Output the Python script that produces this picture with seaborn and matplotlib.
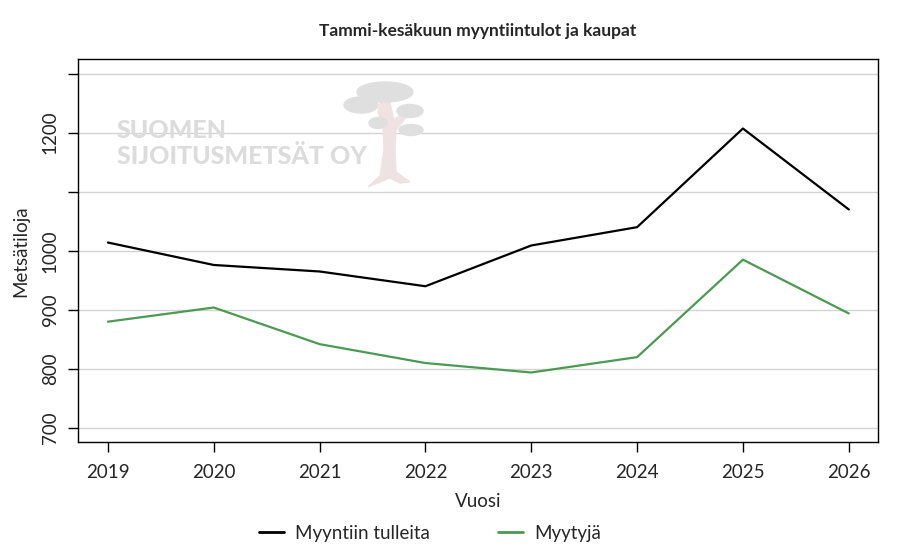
import matplotlib
matplotlib.use("Agg")
import matplotlib.pyplot as plt
import seaborn as sns
import pandas as pd
from matplotlib.patches import Ellipse, Polygon
from matplotlib.lines import Line2D

years = [2019, 2020, 2021, 2022, 2023, 2024, 2025, 2026]
tulleita = [1014, 976, 965, 940, 1009, 1040, 1207, 1070]
myytyja = [880, 904, 842, 810, 794, 820, 985, 894]
series_names = ["Myyntiin tulleita", "Myytyjä"]
series_colors = ["#000000", "#4a9a52"]
y_ticks = [700, 800, 900, 1000, 1100, 1200, 1300]
y_labels = ["700", "800", "900", "1000", "", "1200", ""]

df = pd.DataFrame({
    "Vuosi": years * 2,
    "value": tulleita + myytyja,
    "series": [series_names[0]] * len(years) + [series_names[1]] * len(years),
})

sns.set_style("white")
plt.rcParams["font.family"] = ["Lato", "DejaVu Sans"]

fig = plt.figure(figsize=(9, 5.5), dpi=100)
ax = fig.add_axes([0.087, 0.196, 0.889, 0.696])


def fx(x):
    return x / 900


def fy(y):
    return 1 - y / 550


# watermark (decoration)
fig.text(fx(117), fy(131), "SUOMEN", color="#dcdcdc", fontsize=18,
         fontweight="black", va="center", ha="left", zorder=0)
fig.text(fx(117), fy(157), "SIJOITUSMETSÄT OY", color="#dcdcdc", fontsize=18,
         fontweight="black", va="center", ha="left", zorder=0)
trunk = Polygon([(fx(x), fy(y)) for x, y in [
    (381, 100), (389, 100), (394, 120), (404, 112), (407, 116), (396, 130), (395, 150),
    (396, 172), (410, 182), (400, 183), (390, 178), (368, 187), (380, 176), (384, 150),
    (383, 125), (378, 112)]],
    closed=True, transform=fig.transFigure, color="#eee2e2", zorder=0)
fig.patches.append(trunk)
for cx, cy, w, h in [(385, 92, 56, 20), (361, 105, 34, 16), (410, 111, 26, 13),
                     (378, 123, 18, 11), (411, 130, 24, 11)]:
    e = Ellipse((fx(cx), fy(cy)), w / 900, h / 550, transform=fig.transFigure,
                color="#dfdfdf", zorder=0)
    fig.patches.append(e)

ax.set_facecolor("none")
for yv in y_ticks:
    ax.axhline(yv, color="#d3d3d3", lw=1, zorder=1)

sns.lineplot(data=df, x="Vuosi", y="value", hue="series", palette=series_colors,
             hue_order=series_names, lw=1.6, ax=ax, legend=False, zorder=3)

ax.set_xlim(2019 - 0.28, 2026 + 0.28)
ax.set_ylim(676, 1324)
ax.set_xticks(years)
ax.set_xticklabels([str(y) for y in years], fontsize=13.5)
ax.set_yticks(y_ticks)
ax.set_yticklabels(y_labels, fontsize=13.5, rotation=90, va="center")
ax.tick_params(axis="both", direction="out", length=7, width=1, color="black",
               bottom=True, left=True, pad=7)
ax.tick_params(axis="x", pad=9)
for s in ax.spines.values():
    s.set_color("black")
    s.set_linewidth(1)
ax.set_xlabel("Vuosi", fontsize=13.5, labelpad=8)
ax.set_ylabel("Metsätiloja", fontsize=13.5, labelpad=9)

fig.text(fx(478), fy(31), "Tammi-kesäkuun myyntiintulot ja kaupat", ha="center",
         va="center", fontsize=12.5, fontweight="bold")

handles = [Line2D([0], [0], color=c, lw=2) for c in series_colors]
fig.legend(handles, series_names, loc="center", bbox_to_anchor=(fx(430), fy(533)),
           ncol=2, frameon=False, fontsize=13.5, handlelength=1.35,
           handletextpad=0.6, columnspacing=3.6)

fig.savefig("out.png", dpi=100)
